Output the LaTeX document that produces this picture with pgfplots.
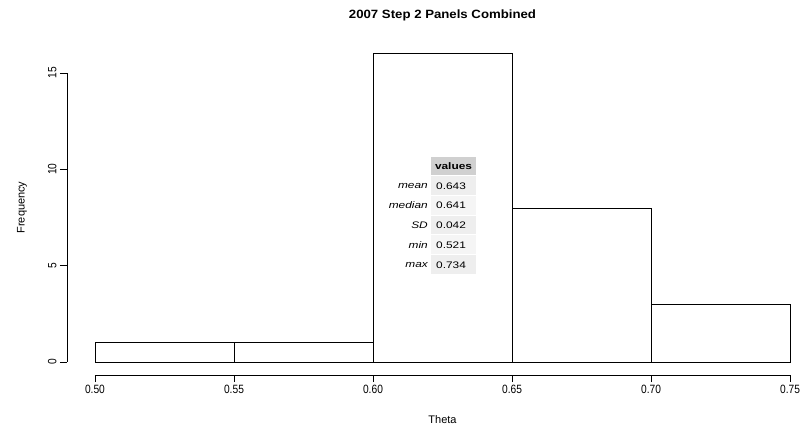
\documentclass[border=0pt]{standalone}
\usepackage{fontspec}
\setmainfont{Liberation Sans}
\newfontfamily\tickfont[FakeStretch=0.85]{Liberation Sans}
\newfontfamily\tabfont[FakeStretch=1.25]{Liberation Sans}
\newfontfamily\titlefont[FakeStretch=1.1]{Liberation Sans}
\usepackage{pgfplots}
\pgfplotsset{compat=1.18}
\definecolor{hdr}{RGB}{208,208,208}
\definecolor{rowa}{RGB}{238,238,238}
\definecolor{rowb}{RGB}{245,245,245}
\begin{document}
\begin{tikzpicture}[x=1pt,y=1pt]
\useasboundingbox (0,0) rectangle (811,429);
\begin{axis}[
  at={(67pt,54pt)}, anchor=south west,
  scale only axis, width=723pt, height=321.3pt,
  xmin=0.48993, xmax=0.75, ymin=-0.675, ymax=16,
  clip=false,
  axis line style={draw=none},
  tick align=outside, major tick length=7pt,
  xtick pos=bottom, ytick pos=left,
  xtick={0.50,0.55,0.60,0.65,0.70,0.75},
  xticklabels={0.50,0.55,0.60,0.65,0.70,0.75},
  ytick={0,5,10,15},
  /pgf/number format/assume math mode=true,
  ticklabel style={font=\tickfont\fontsize{12}{14}\selectfont},
  yticklabel style={rotate=90, anchor=south},
  tick style={black, line width=0.6pt},
]
\addplot[ybar interval, fill=white, draw=black, line width=0.6pt]
  coordinates {(0.50,1) (0.55,1) (0.60,16) (0.65,8) (0.70,3) (0.75,3)};
\draw[line width=0.6pt] (axis cs:0.50,-0.675) -- (axis cs:0.75,-0.675);
\draw[line width=0.6pt] (axis cs:0.48993,0) -- (axis cs:0.48993,15);
\end{axis}
% titles
\node[font=\titlefont\bfseries\fontsize{12}{14}\selectfont] at (442.5,414) {2007 Step 2 Panels Combined};
\node[font=\fontsize{11}{13}\selectfont] at (442.5,9) {Theta};
\node[font=\fontsize{11}{13}\selectfont, rotate=90] at (22,221.5) {Frequency};
% table
\fill[hdr] (431,254) rectangle (476,272);
\fill[rowa] (431,234) rectangle (476,253);
\fill[rowb] (431,214.5) rectangle (476,233);
\fill[rowa] (431,195) rectangle (476,213.5);
\fill[rowb] (431,175) rectangle (476,194);
\fill[rowa] (431,155) rectangle (476,174);
\begin{scope}[every node/.style={font=\tabfont\fontsize{9.5}{11}\selectfont, inner sep=0pt}]
\node[font=\tabfont\bfseries\fontsize{9.5}{11}\selectfont] at (453.5,263) {values};
\node[anchor=east] at (428,243) {\itshape mean};
\node[anchor=east] at (428,223.5) {\itshape median};
\node[anchor=east] at (428,204) {\itshape SD};
\node[anchor=east] at (428,184) {\itshape min};
\node[anchor=east] at (428,164) {\itshape max};
\node[anchor=west] at (436,243) {0.643};
\node[anchor=west] at (436,223.5) {0.641};
\node[anchor=west] at (436,204) {0.042};
\node[anchor=west] at (436,184) {0.521};
\node[anchor=west] at (436,164) {0.734};
\end{scope}
\end{tikzpicture}
\end{document}
